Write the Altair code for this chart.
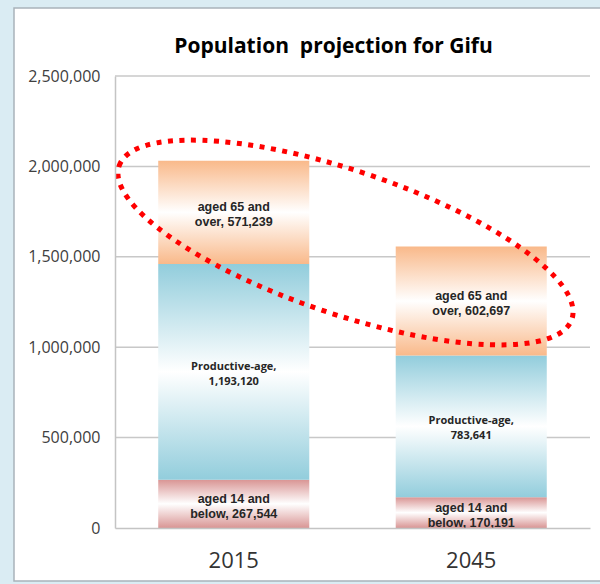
import altair as alt
import pandas as pd

# ---- data ----
years = ["2015", "2045"]
young = [267544, 170191]          # aged 14 and below
productive = [1193120, 783641]    # productive-age
elderly = [571239, 602697]        # aged 65 and over
y_ticks = [0, 500000, 1000000, 1500000, 2000000, 2500000]
title_text = "Population\u00a0 projection for Gifu"

rows = []
for i, yr in enumerate(years):
    s0 = 0
    s1 = young[i]
    s2 = young[i] + productive[i]
    s3 = s2 + elderly[i]
    rows.append(dict(year=yr, group="young", start=s0, end=s1,
                     label=f"aged 14 and\nbelow, {young[i]:,}"))
    rows.append(dict(year=yr, group="productive", start=s1, end=s2,
                     label=f"Productive-age,\n{productive[i]:,}"))
    rows.append(dict(year=yr, group="elderly", start=s2, end=s3,
                     label=f"aged 65 and\nover, {elderly[i]:,}"))
df = pd.DataFrame(rows)
df["mid"] = (df["start"] + df["end"]) / 2
grid_df = pd.DataFrame({"tick": y_ticks[1:]})
one = pd.DataFrame({"a": [0]})

# ---- scales / axes ----
yscale = alt.Scale(domain=[0, 2500000], nice=False)
xscale = alt.Scale(domain=years, paddingInner=0.364, paddingOuter=0.182)
yaxis = alt.Axis(values=y_ticks, labelExpr="format(datum.value, ',')", grid=False,
                 ticks=False, title=None,
                 labelFont="Open Sans", labelFontSize=16, labelColor="#404040",
                 labelPadding=15, domainColor="#c4c4c4", domainWidth=1.5, zindex=1)
xaxis = alt.Axis(title=None, labelAngle=0, ticks=False, grid=False,
                 labelFont="Open Sans", labelFontSize=22, labelColor="#333333",
                 labelPadding=22, domainColor="#c4c4c4", domainWidth=1.5, zindex=1)


def X():
    return alt.X("year:N", scale=xscale, axis=xaxis)


def grad(c):
    return alt.Gradient(gradient="linear", x1=0, x2=0, y1=0, y2=1,
                        stops=[alt.GradientStop(offset=0, color=c),
                               alt.GradientStop(offset=0.5, color="#ffffff"),
                               alt.GradientStop(offset=1, color=c)])


panel = alt.Chart(one).mark_rect(fill="white", stroke="#a9b3ba", strokeWidth=1.5).encode(
    x=alt.value(-101), x2=alt.value(520), y=alt.value(-68), y2=alt.value(505))

grid = alt.Chart(grid_df).mark_rule(color="#c8c8c8", strokeWidth=1.5).encode(
    y=alt.Y("tick:Q", scale=yscale, axis=yaxis))

colors = {"young": "#d99594", "productive": "#92cddc", "elderly": "#f9b98a"}
bars = []
for g, c in colors.items():
    bars.append(
        alt.Chart(df).transform_filter(alt.datum.group == g).mark_bar(fill=grad(c)).encode(
            x=X(),
            y=alt.Y("start:Q", scale=yscale, axis=yaxis),
            y2="end:Q"))

text_aged = alt.Chart(df).transform_filter(alt.datum.group != "productive").mark_text(
    lineBreak="\n", font="Liberation Sans", fontWeight="bold", fontSize=12.5,
    lineHeight=15, dy=-5, color="#262626").encode(
    x=X(), y=alt.Y("mid:Q", scale=yscale, axis=yaxis), text="label:N")

text_prod = alt.Chart(df).transform_filter(alt.datum.group == "productive").mark_text(
    lineBreak="\n", font="Open Sans", fontWeight="bold", fontSize=11,
    lineHeight=15, dy=-5, color="#262626").encode(
    x=X(), y=alt.Y("mid:Q", scale=yscale, axis=yaxis), text="label:N")

ellipse_path = "M -1 0 A 1 0.3 0 1 1 1 0 A 1 0.3 0 1 1 -1 0 Z"
ellipse = alt.Chart(one).mark_point(
    shape=ellipse_path, size=478 * 478, angle=18.7, filled=False, fill=None,
    stroke="#ff0000", strokeWidth=5, strokeDash=[5, 6.5], opacity=1).encode(
    x=alt.value(230.5), y=alt.value(166.5))

chart = alt.layer(panel, grid, *bars, text_aged, text_prod, ellipse).properties(
    width=475, height=452,
    title=alt.TitleParams(title_text, font="Open Sans", fontSize=21, fontWeight="bold",
                          color="#000000", anchor="middle", frame="group", dx=-19,
                          offset=-50),
    autosize=alt.AutoSizeParams(type="none"),
    padding={"left": 115, "top": 76, "right": 10, "bottom": 56},
).configure(background="#daecf3").configure_view(stroke=None)

chart.save("out.html", embed_options={"renderer": "svg", "actions": False})
